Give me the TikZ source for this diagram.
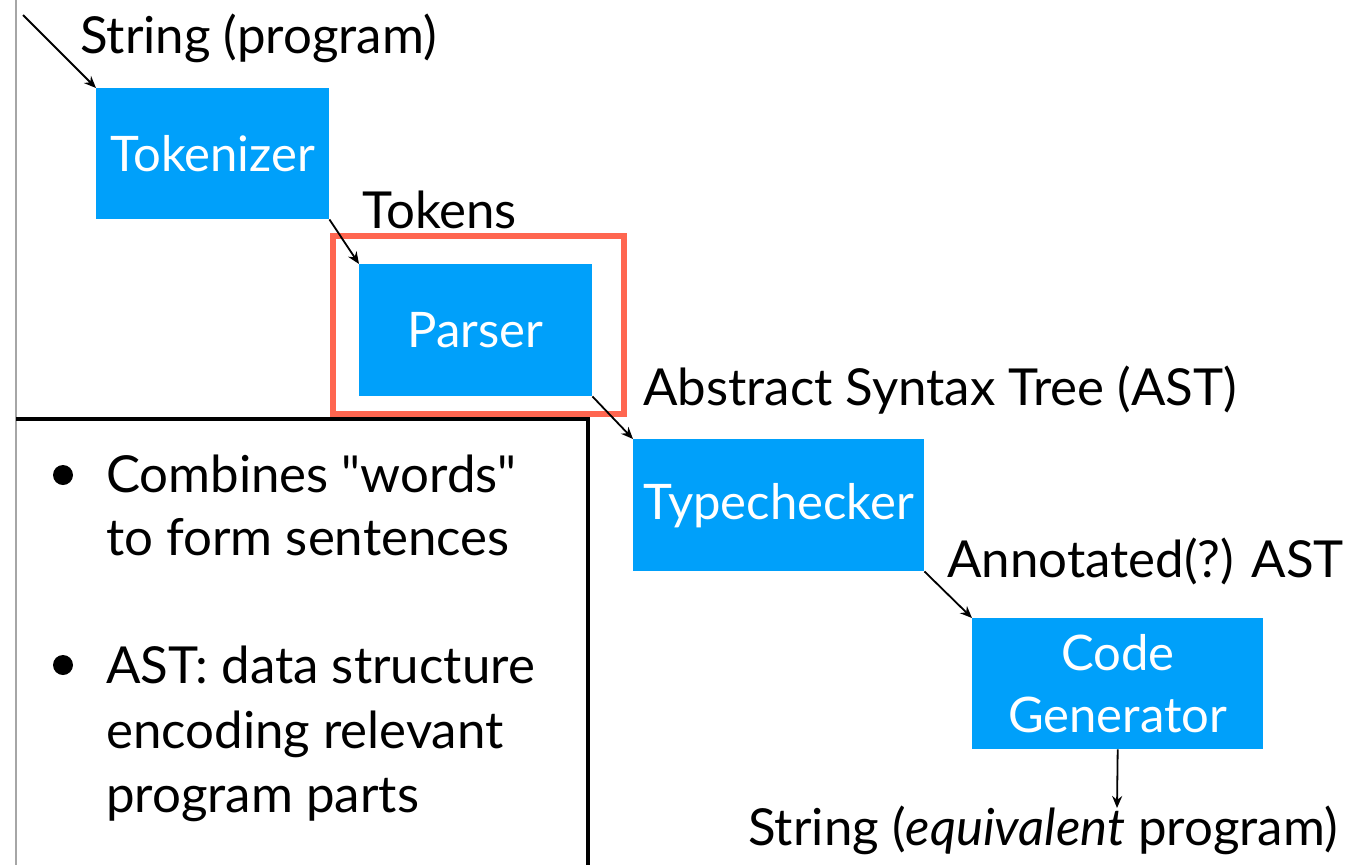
\documentclass[tikz,border=0pt]{standalone}
\usepackage{fontspec}
\setmainfont{Lato}
\usetikzlibrary{arrows.meta}
\definecolor{boxblue}{RGB}{0,160,250}
\definecolor{hl}{RGB}{255,102,80}
\begin{document}
\begin{tikzpicture}[x=1pt,y=-1pt,
  stage/.style={fill=boxblue, text=white, inner sep=0pt, anchor=north west, font=\fontsize{49}{62}\selectfont, align=center},
  lbl/.style={anchor=base west, inner sep=0pt, font=\fontsize{51}{60}\selectfont},
  flow/.style={line width=1.8pt, -{Stealth[length=12pt,width=10pt]}},
  dot/.style={circle, fill=black, minimum size=20pt, inner sep=0pt}]
\useasboundingbox (0,0) rectangle (1354,865);
\draw[gray!70, line width=1.2pt] (16,0) -- (16,865);
\draw[line width=4pt] (16,419) -- (588,419) -- (588,865);
\node[stage, minimum width=233pt, minimum height=131pt] (tok) at (96,88) {Tokenizer};
\node[stage, minimum width=233pt, minimum height=132pt] (par) at (359,264) {Parser};
\node[stage, minimum width=291pt, minimum height=132pt] (typ) at (633,439) {Typechecker};
\node[stage, minimum width=291pt, minimum height=131pt] (gen) at (972,618) {Code\\Generator};
\node[draw=hl, line width=6pt, minimum width=291pt, minimum height=178pt, anchor=north west, inner sep=0pt] (hlbox) at (330,233) {};
\node[lbl] (s0) at (80,53) {String (program)};
\node[lbl] (t1) at (362,228) {Tokens};
\node[lbl] (t2) at (643,405) {Abstract Syntax Tree (AST)};
\node[lbl] (t3) at (947,577) {Annotated(?) AST};
\node[lbl, anchor=base east] (t4) at (1338,845) {String (\textit{equivalent} program)};
\coordinate (in) at (23,15);
\coordinate (out) at (1117,808);
\draw[flow] (in) -- (tok.north west);
\draw[flow] (tok.south east) -- (par.north west);
\draw[flow] (par.south east) -- (typ.north west);
\draw[flow] (typ.south east) -- (gen.north west);
\draw[flow] (gen.south) -- (out);
\node[dot] (d1) at (63,475) {};
\node[dot] (d2) at (63,665) {};
\node[lbl] (b1) at (106,492) {Combines \textquotedbl words\textquotedbl};
\node[lbl] (b2) at (106,555) {to form sentences};
\node[lbl] (b3) at (106,683) {AST: data structure};
\node[lbl] (b4) at (106,748) {encoding relevant};
\node[lbl] (b5) at (106,812) {program parts};
\end{tikzpicture}
\end{document}
